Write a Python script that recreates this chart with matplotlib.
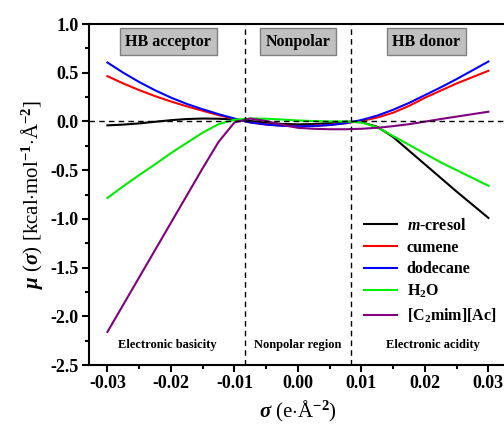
import numpy as np
import matplotlib
matplotlib.use("Agg")
import matplotlib.pyplot as plt
from matplotlib.ticker import MultipleLocator

plt.rcParams["font.family"] = "Liberation Serif"
plt.rcParams["font.weight"] = "bold"
plt.rcParams["mathtext.fontset"] = "custom"
plt.rcParams["mathtext.rm"] = "Liberation Serif:bold"
plt.rcParams["mathtext.bf"] = "Liberation Serif:bold"
plt.rcParams["mathtext.it"] = "Liberation Serif:italic:bold"

# sigma profile grid [e/A^2]
sigma = [-0.03, -0.0275, -0.025, -0.0225, -0.02, -0.0175, -0.015, -0.0125, -0.01,
         -0.0075, -0.005, -0.0025, 0.0, 0.0025, 0.005, 0.0075, 0.01, 0.0125,
         0.015, 0.0175, 0.02, 0.0225, 0.025, 0.0275, 0.03]

# sigma potentials [kcal/mol/A^2]
mu_cresol = [-0.04, -0.032, -0.02, -0.003, 0.013, 0.025, 0.03, 0.028, 0.02,
             0.005, -0.012, -0.025, -0.03, -0.027, -0.017, -0.002, -0.008, -0.055,
             -0.16, -0.3, -0.44, -0.58, -0.72, -0.855, -0.99]
mu_cumene = [0.465, 0.39, 0.322, 0.26, 0.205, 0.155, 0.11, 0.065, 0.025,
             -0.01, -0.03, -0.042, -0.047, -0.045, -0.035, -0.018, 0.005, 0.04,
             0.09, 0.16, 0.243, 0.317, 0.39, 0.455, 0.52]
mu_dodecane = [0.605, 0.50, 0.405, 0.32, 0.245, 0.18, 0.125, 0.075, 0.03,
               -0.01, -0.032, -0.045, -0.05, -0.047, -0.037, -0.018, 0.015, 0.06,
               0.12, 0.19, 0.27, 0.35, 0.435, 0.525, 0.615]
mu_h2o = [-0.785, -0.665, -0.55, -0.44, -0.325, -0.22, -0.115, -0.028, 0.018,
          0.03, 0.028, 0.02, 0.01, 0.004, 0.0, 0.0, -0.01, -0.06,
          -0.15, -0.24, -0.33, -0.42, -0.5, -0.58, -0.66]
mu_il = [-2.16, -1.88, -1.6, -1.32, -1.04, -0.76, -0.48, -0.21, -0.01,
         0.03, 0.005, -0.035, -0.065, -0.075, -0.08, -0.08, -0.075, -0.065,
         -0.048, -0.028, -0.002, 0.025, 0.05, 0.075, 0.1]

labels = ["$m$-cresol", "cumene", "dodecane", "H$_2$O", "[C$_2$mim][Ac]"]
colors = ["black", "#ff0000", "#0000ff", "#00ee00", "#800080"]
series = [mu_cresol, mu_cumene, mu_dodecane, mu_h2o, mu_il]

fig = plt.figure(figsize=(5.04, 4.25), dpi=100)
ax = fig.add_axes([0.1766, 0.141, 0.829, 0.8025])

for y, c, l in zip(series, colors, labels):
    ax.plot(sigma, y, color=c, lw=1.5, label=l)

# region boundaries
ax.axvline(-0.0084, color="black", ls=(0, (4, 3)), lw=1)
ax.axvline(0.0084, color="black", ls=(0, (4, 3)), lw=1)
ax.axhline(0.0, color="black", ls=(0, (4, 3)), lw=1)

box = dict(boxstyle="square,pad=0.35", fc="#c0c0c0", ec="#808080", lw=1)
for xc, txt in [(-0.0204, "HB acceptor"), (0.0, "Nonpolar"), (0.0202, "HB donor")]:
    ax.text(xc, 0.82, txt, ha="center", va="center", fontsize=11.5, bbox=box)

for xc, txt in [(-0.0205, "Electronic basicity"), (0.0, "Nonpolar region"),
                (0.0213, "Electronic acidity")]:
    ax.text(xc, -2.29, txt, ha="center", va="center", fontsize=9)

ax.set_xlim(-0.0329, 0.0329)
ax.set_ylim(-2.5, 1.0)
ax.xaxis.set_minor_locator(MultipleLocator(0.005))
ax.yaxis.set_minor_locator(MultipleLocator(0.25))
ax.set_xticks([-0.03, -0.02, -0.01, 0.0, 0.01, 0.02, 0.03])
ax.set_xticklabels(["-0.03", "-0.02", "-0.01", "0.00", "0.01", "0.02", "0.03"])
ax.set_yticks([1.0, 0.5, 0.0, -0.5, -1.0, -1.5, -2.0, -2.5])
ax.set_yticklabels(["1.0", "0.5", "0.0", "-0.5", "-1.0", "-1.5", "-2.0", "-2.5"])
ax.tick_params(which="major", direction="out", length=5, width=1.5, labelsize=13, pad=2.5)
ax.tick_params(which="minor", direction="out", length=3, width=1.5)
for s in ax.spines.values():
    s.set_linewidth(1.5)

ax.set_xlabel(r"$\sigma$ (e$\cdot$Å$^{-2}$)", fontsize=15, labelpad=5)
ax.set_ylabel(r"$\mu$ ($\sigma$) [kcal$\cdot$mol$^{-1}$$\cdot$Å$^{-2}$]", fontsize=15, labelpad=4)

ax.legend(loc="lower right", bbox_to_anchor=(0.99, 0.1), frameon=False, fontsize=11.5,
          handlelength=2.1, handletextpad=0.6, labelspacing=0.36, borderaxespad=0)

fig.savefig("out.png", dpi=100)
